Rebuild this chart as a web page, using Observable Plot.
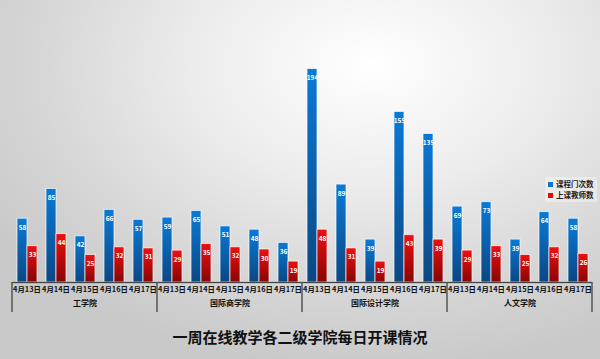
<!DOCTYPE html>
<html>
<head>
<meta charset="utf-8">
<script src="https://cdn.jsdelivr.net/npm/d3@7"></script>
<script src="https://cdn.jsdelivr.net/npm/@observablehq/plot@0.6"></script>
<style>
  html, body { margin: 0; padding: 0; }
  #wrap {
    position: relative; width: 600px; height: 359px; overflow: hidden;
    background: radial-gradient(ellipse 75% 85% at 62% 18%, #ffffff 0%, #ececec 40%, #d6d6d6 75%, #c9c9c9 100%);
    font-family: "Noto Sans CJK SC", "Noto Sans", sans-serif;
  }
  #title {
    height: 39px; line-height: 34px; text-align: center;
    font-size: 15px; font-weight: bold; color: #111; letter-spacing: 0px;
  }
  #legend {
    position: absolute; left: 545px; top: 177px; width: 52px; height: 25px;
    background: rgba(255,255,255,0.35);
    font-size: 7.5px; font-weight: bold; color: #222;
  }
  #legend .item { position: absolute; left: 3px; height: 10px; line-height: 10px; white-space: nowrap; }
  #legend .sw { display: inline-block; width: 5px; height: 5px; margin-right: 3px; vertical-align: 0px; }
</style>
</head>
<body>
<div id="wrap">
  <div id="chart"></div>
  <div id="title"></div>
  <div id="legend"></div>
</div>
<script>
const colleges = ["工学院", "国际商学院", "国际设计学院", "人文学院"];
const dates = ["4月13日", "4月14日", "4月15日", "4月16日", "4月17日"];
const seriesNames = ["课程门次数", "上课教师数"];
const seriesColors = ["#0b76cf", "#e00d0d"];
const courses = [
  [58, 85, 42, 66, 57],
  [59, 65, 51, 48, 36],
  [194, 89, 39, 155, 135],
  [69, 73, 39, 64, 58]
];
const teachers = [
  [33, 44, 25, 32, 31],
  [29, 35, 32, 30, 19],
  [48, 31, 19, 43, 39],
  [29, 33, 25, 32, 26]
];
const titleText = "一周在线教学各二级学院每日开课情况";

const keyOf = (c, d) => c + "|" + d;
const keys = [];
const dateRows = [];
const rows = [];
colleges.forEach((c, ci) => {
  dates.forEach((d, di) => {
    const k = keyOf(c, d);
    keys.push(k);
    dateRows.push({key: k, date: d});
    rows.push({key: k, series: seriesNames[0], value: courses[ci][di]});
    rows.push({key: k, series: seriesNames[1], value: teachers[ci][di]});
  });
});
const groupRows = colleges.map(c => ({key: keyOf(c, dates[Math.floor(dates.length / 2)]), college: c}));

const fillFor = {};
fillFor[seriesNames[0]] = "url(#gradBlue)";
fillFor[seriesNames[1]] = "url(#gradRed)";

const chart = Plot.plot({
  width: 600,
  height: 320,
  marginLeft: 11,
  marginRight: 8,
  marginTop: 62,
  marginBottom: 38,
  style: {background: "transparent", fontFamily: "'Noto Sans CJK SC', sans-serif", overflow: "visible"},
  fx: {domain: keys, padding: 0, axis: null},
  x: {domain: seriesNames, paddingInner: 0, paddingOuter: 0.38, axis: null},
  y: {domain: [0, 200], axis: null},
  marks: [
    Plot.barY(rows, {fx: "key", x: "series", y: "value", fill: d => fillFor[d.series], stroke: "#ffffff", strokeOpacity: 0.75, strokeWidth: 0.9}),
    Plot.text(rows, {fx: "key", x: "series", y: "value", text: d => String(d.value), dy: 9, fill: "white", fontSize: 6.5, fontWeight: "bold"}),
    Plot.ruleY([0], {stroke: "#444", strokeWidth: 1.3}),
    Plot.text(dateRows, {fx: "key", text: "date", frameAnchor: "bottom", dy: 9, fontSize: 7.4, fontWeight: "bold", fill: "#111"}),
    Plot.text(groupRows, {fx: "key", text: "college", frameAnchor: "bottom", dy: 23, fontSize: 8, fontWeight: "bold", fill: "#111"})
  ]
});

// gradients
const svg = d3.select(chart);
const defs = svg.insert("defs", ":first-child");
function grad(id, top, bottom) {
  const g = defs.append("linearGradient").attr("id", id).attr("x1", 0).attr("y1", 0).attr("x2", 0).attr("y2", 1);
  g.append("stop").attr("offset", "0%").attr("stop-color", top);
  g.append("stop").attr("offset", "100%").attr("stop-color", bottom);
}
grad("gradBlue", "#0a7ad6", "#0a4784");
grad("gradRed", "#ee1010", "#880404");

// group separators on the multi-level category axis
const fxs = chart.scale("fx");
const y0 = chart.scale("y").apply(0);
const bounds = colleges.map(c => fxs.apply(keyOf(c, dates[0])));
bounds.push(fxs.apply(keyOf(colleges[colleges.length - 1], dates[dates.length - 1])) + fxs.bandwidth);
svg.append("g").selectAll("line").data(bounds).join("line")
  .attr("x1", d => d).attr("x2", d => d)
  .attr("y1", y0).attr("y2", y0 + 30)
  .attr("stroke", "#555").attr("stroke-width", 1.5);

document.getElementById("chart").appendChild(chart);
document.getElementById("title").textContent = titleText;

const legend = document.getElementById("legend");
seriesNames.forEach((s, i) => {
  const it = document.createElement("div");
  it.className = "item";
  it.style.top = (2 + i * 11) + "px";
  const sw = document.createElement("span");
  sw.className = "sw";
  sw.style.background = seriesColors[i];
  it.appendChild(sw);
  it.appendChild(document.createTextNode(s));
  legend.appendChild(it);
});
</script>
</body>
</html>
